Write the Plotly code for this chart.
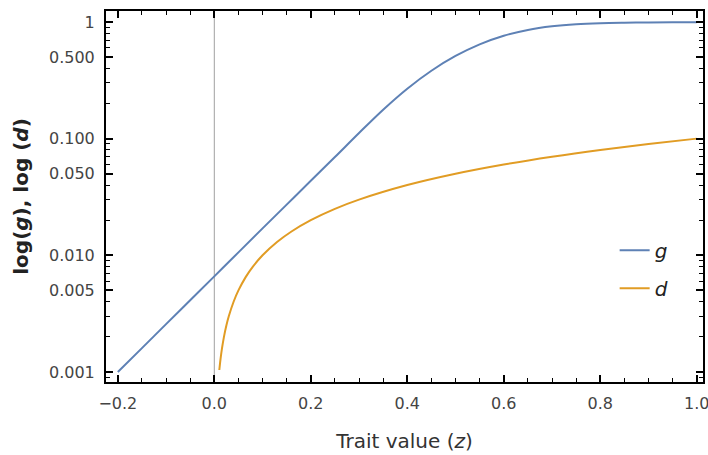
import plotly.graph_objects as go

# g curve
z_g = [-0.2, -0.15, -0.1, -0.05, 0.0, 0.05, 0.1, 0.15, 0.2, 0.25, 0.3, 0.35, 0.4, 0.45,
       0.5, 0.55, 0.6, 0.65, 0.7, 0.75, 0.8, 0.85, 0.9, 0.95, 1.0]
g_vals = [0.001, 0.0016, 0.00257, 0.00412, 0.0066, 0.0106, 0.017, 0.0272, 0.0435, 0.0695,
          0.1117, 0.177, 0.268, 0.382, 0.511, 0.643, 0.762, 0.855, 0.918, 0.957, 0.977,
          0.986, 0.991, 0.993, 0.993]

# d curve
z_d = [0.0104, 0.013, 0.016, 0.02, 0.025, 0.03, 0.04, 0.05, 0.065, 0.08, 0.1, 0.13, 0.16,
       0.2, 0.25, 0.3, 0.4, 0.5, 0.6, 0.7, 0.8, 0.9, 1.0]
d_vals = [0.00104, 0.0013, 0.0016, 0.002, 0.0025, 0.003, 0.004, 0.005, 0.0065, 0.008, 0.01,
          0.013, 0.016, 0.02, 0.025, 0.03, 0.04, 0.05, 0.06, 0.07, 0.08, 0.09, 0.1]

x_ticks = [-0.2, 0.0, 0.2, 0.4, 0.6, 0.8, 1.0]
x_ticktext = ["\u22120.2", "0.0", "0.2", "0.4", "0.6", "0.8", "1.0"]
x_minor = [-0.15, -0.1, -0.05, 0.05, 0.1, 0.15, 0.25, 0.3, 0.35, 0.45, 0.5, 0.55,
           0.65, 0.7, 0.75, 0.85, 0.9, 0.95]
y_ticks = [0.001, 0.005, 0.01, 0.05, 0.1, 0.5, 1]
y_ticktext = ["0.001", "0.005", "0.010", "0.050", "0.100", "0.500", "1"]
y_minor = [0.0009, 0.002, 0.003, 0.004, 0.006, 0.007, 0.008, 0.009,
           0.02, 0.03, 0.04, 0.06, 0.07, 0.08, 0.09,
           0.2, 0.3, 0.4, 0.6, 0.7, 0.8, 0.9]

BLUE = "#5E81B5"
ORANGE = "#E19C24"
FONT = "DejaVu Sans"

fig = go.Figure()
fig.add_trace(go.Scatter(x=z_g, y=g_vals, mode="lines", name="<i>g</i>",
                         line=dict(color=BLUE, width=2, shape="spline"), legend="legend"))
fig.add_trace(go.Scatter(x=z_d, y=d_vals, mode="lines", name="<i>d</i>",
                         line=dict(color=ORANGE, width=2, shape="spline"), legend="legend2"))

fig.add_shape(type="line", xref="x", yref="paper", x0=0, x1=0, y0=0, y1=1,
              line=dict(color="#A0A0A0", width=1), layer="below")

axis_common = dict(showline=True, linecolor="black", linewidth=2, mirror="allticks",
                   ticks="inside", ticklen=7, tickwidth=1.5, tickcolor="black",
                   showgrid=False, zeroline=False, automargin=False,
                   ticklabeloverflow="allow",
                   tickfont=dict(family=FONT, size=16, color="#444444"))

fig.update_xaxes(range=[-0.2245, 1.013], tickmode="array", tickvals=x_ticks,
                 ticktext=x_ticktext, ticklabelstandoff=6,
                 minor=dict(tickmode="array", tickvals=x_minor, ticks="inside",
                            ticklen=4, tickwidth=1.2, tickcolor="black"),
                 title=dict(text="Trait value (<i>z</i>)", standoff=22,
                            font=dict(family=FONT, size=20, color="#333333")),
                 **axis_common)
fig.update_yaxes(type="log", range=[-3.086, 0.094], tickmode="array", tickvals=y_ticks,
                 ticktext=y_ticktext, ticklabelstandoff=6,
                 minor=dict(tickmode="array", tickvals=y_minor, ticks="inside",
                            ticklen=4, tickwidth=1.2, tickcolor="black"),
                 title=dict(text="<b>log(<i>g</i>), log (<i>d</i>)</b>", standoff=15,
                            font=dict(family=FONT, size=20, color="#222222")),
                 **axis_common)

legend_common = dict(xref="paper", yref="paper", xanchor="left", yanchor="middle",
                     bgcolor="rgba(0,0,0,0)", font=dict(family=FONT, size=20, color="#222222"),
                     itemwidth=30)
fig.update_layout(
    width=708, height=455,
    margin=dict(l=106, r=5, t=11, b=73),
    paper_bgcolor="white", plot_bgcolor="white",
    showlegend=True,
    legend=dict(x=0.852, y=0.355, **legend_common),
    legend2=dict(x=0.852, y=0.253, **legend_common),
)

fig.write_html("out.html")
